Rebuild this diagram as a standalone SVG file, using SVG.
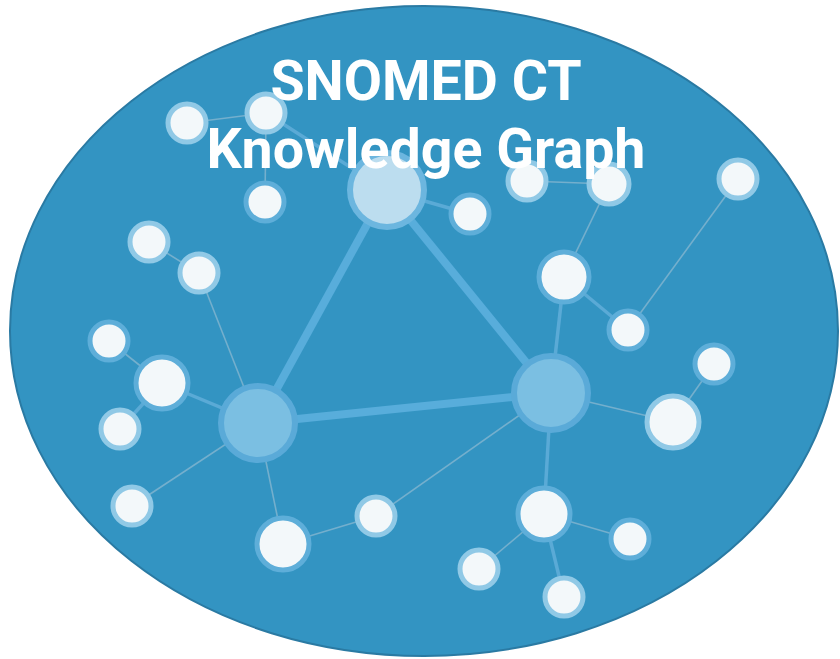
<svg xmlns="http://www.w3.org/2000/svg" width="840" height="659" viewBox="0 0 840 659">
<style>
.bg{fill:#3394c2;stroke:#2a7aa3;stroke-width:2}
.thick{stroke:#58addb;stroke-width:8;fill:none}
.mid{stroke:#5aaad6;stroke-width:3.5;fill:none}
.thin{stroke:#74afcd;stroke-width:1.6;fill:none}
.hub{fill:#7bbfe2;stroke:#5aaad8;stroke-width:6}
.hubtop{fill:#bcddef;stroke:#6cb6df;stroke-width:6}
.leaf{fill:#f3f8fa;stroke:#5eaed9;stroke-width:5}
.leafl{fill:#f3f8fa;stroke:#90c9e6;stroke-width:5}
.title{font-family:Roboto,"Liberation Sans",sans-serif;font-weight:bold;font-size:55.5px;fill:#ffffff;text-anchor:middle}
</style>
<ellipse class="bg" cx="424" cy="331" rx="414" ry="325"/>
<g id="connectors">
<line class="thick" x1="386" y1="190" x2="258" y2="423"/>
<line class="thick" x1="386" y1="190" x2="551" y2="393"/>
<line class="thick" x1="258" y1="423" x2="551" y2="393"/>
<line class="thin" x1="187" y1="123" x2="266" y2="113"/>
<line class="thin" x1="266" y1="113" x2="265" y2="202"/>
<line class="mid" x1="266" y1="113" x2="386" y2="190"/>
<line class="mid" x1="386" y1="190" x2="470" y2="214"/>
<line class="thin" x1="527" y1="181" x2="609" y2="184"/>
<line class="thin" x1="609" y1="184" x2="564" y2="277"/>
<line class="mid" x1="564" y1="277" x2="628" y2="330"/>
<line class="thin" x1="628" y1="330" x2="738" y2="179"/>
<line class="mid" x1="564" y1="277" x2="551" y2="393"/>
<line class="thin" x1="149" y1="242" x2="199" y2="273"/>
<line class="thin" x1="199" y1="273" x2="258" y2="423"/>
<line class="thin" x1="109" y1="341" x2="162" y2="383"/>
<line class="mid" x1="162" y1="383" x2="258" y2="423"/>
<line class="mid" x1="120" y1="429" x2="162" y2="383"/>
<line class="thin" x1="132" y1="506" x2="258" y2="423"/>
<line class="thin" x1="258" y1="423" x2="283" y2="544"/>
<line class="thin" x1="283" y1="544" x2="376" y2="516"/>
<line class="thin" x1="376" y1="516" x2="551" y2="393"/>
<line class="thin" x1="551" y1="393" x2="673" y2="422"/>
<line class="thin" x1="673" y1="422" x2="714" y2="364"/>
<line class="mid" x1="551" y1="393" x2="544" y2="514"/>
<line class="thin" x1="544" y1="514" x2="630" y2="539"/>
<line class="thin" x1="544" y1="514" x2="479" y2="569"/>
<line class="mid" x1="544" y1="514" x2="564" y2="597"/>
</g>
<g id="hub-top"><circle class="hubtop" cx="387" cy="190" r="37"/></g>
<g id="hub-left"><circle class="hub" cx="258" cy="423" r="37"/></g>
<g id="hub-right"><circle class="hub" cx="551" cy="393" r="37"/></g>
<g id="n1"><circle class="leafl" cx="187" cy="123" r="19"/></g>
<g id="n2"><circle class="leafl" cx="266" cy="113" r="19"/></g>
<g id="n3"><circle class="leaf" cx="265" cy="202" r="19"/></g>
<g id="n4"><circle class="leaf" cx="470" cy="214" r="19"/></g>
<g id="n5"><circle class="leafl" cx="527" cy="181" r="19"/></g>
<g id="n6"><circle class="leafl" cx="609" cy="184" r="20"/></g>
<g id="n7"><circle class="leafl" cx="738" cy="179" r="19"/></g>
<g id="n8"><circle class="leaf" cx="564" cy="277" r="25"/></g>
<g id="n9"><circle class="leaf" cx="628" cy="330" r="19"/></g>
<g id="n10"><circle class="leafl" cx="149" cy="242" r="19"/></g>
<g id="n11"><circle class="leafl" cx="199" cy="273" r="19"/></g>
<g id="n12"><circle class="leaf" cx="109" cy="341" r="19"/></g>
<g id="n13"><circle class="leaf" cx="162" cy="383" r="26"/></g>
<g id="n14"><circle class="leafl" cx="120" cy="429" r="19"/></g>
<g id="n15"><circle class="leafl" cx="132" cy="506" r="19"/></g>
<g id="n16"><circle class="leaf" cx="283" cy="544" r="26"/></g>
<g id="n17"><circle class="leafl" cx="376" cy="516" r="19"/></g>
<g id="n18"><circle class="leaf" cx="714" cy="364" r="19"/></g>
<g id="n19"><circle class="leafl" cx="673" cy="422" r="26"/></g>
<g id="n20"><circle class="leaf" cx="544" cy="514" r="26"/></g>
<g id="n21"><circle class="leaf" cx="630" cy="539" r="19"/></g>
<g id="n22"><circle class="leafl" cx="479" cy="569" r="19"/></g>
<g id="n23"><circle class="leafl" cx="564" cy="597" r="19"/></g>
<g id="title">
<text class="title" x="426" y="100">SNOMED CT</text>
<text class="title" x="426" y="168">Knowledge Graph</text>
</g>
</svg>
